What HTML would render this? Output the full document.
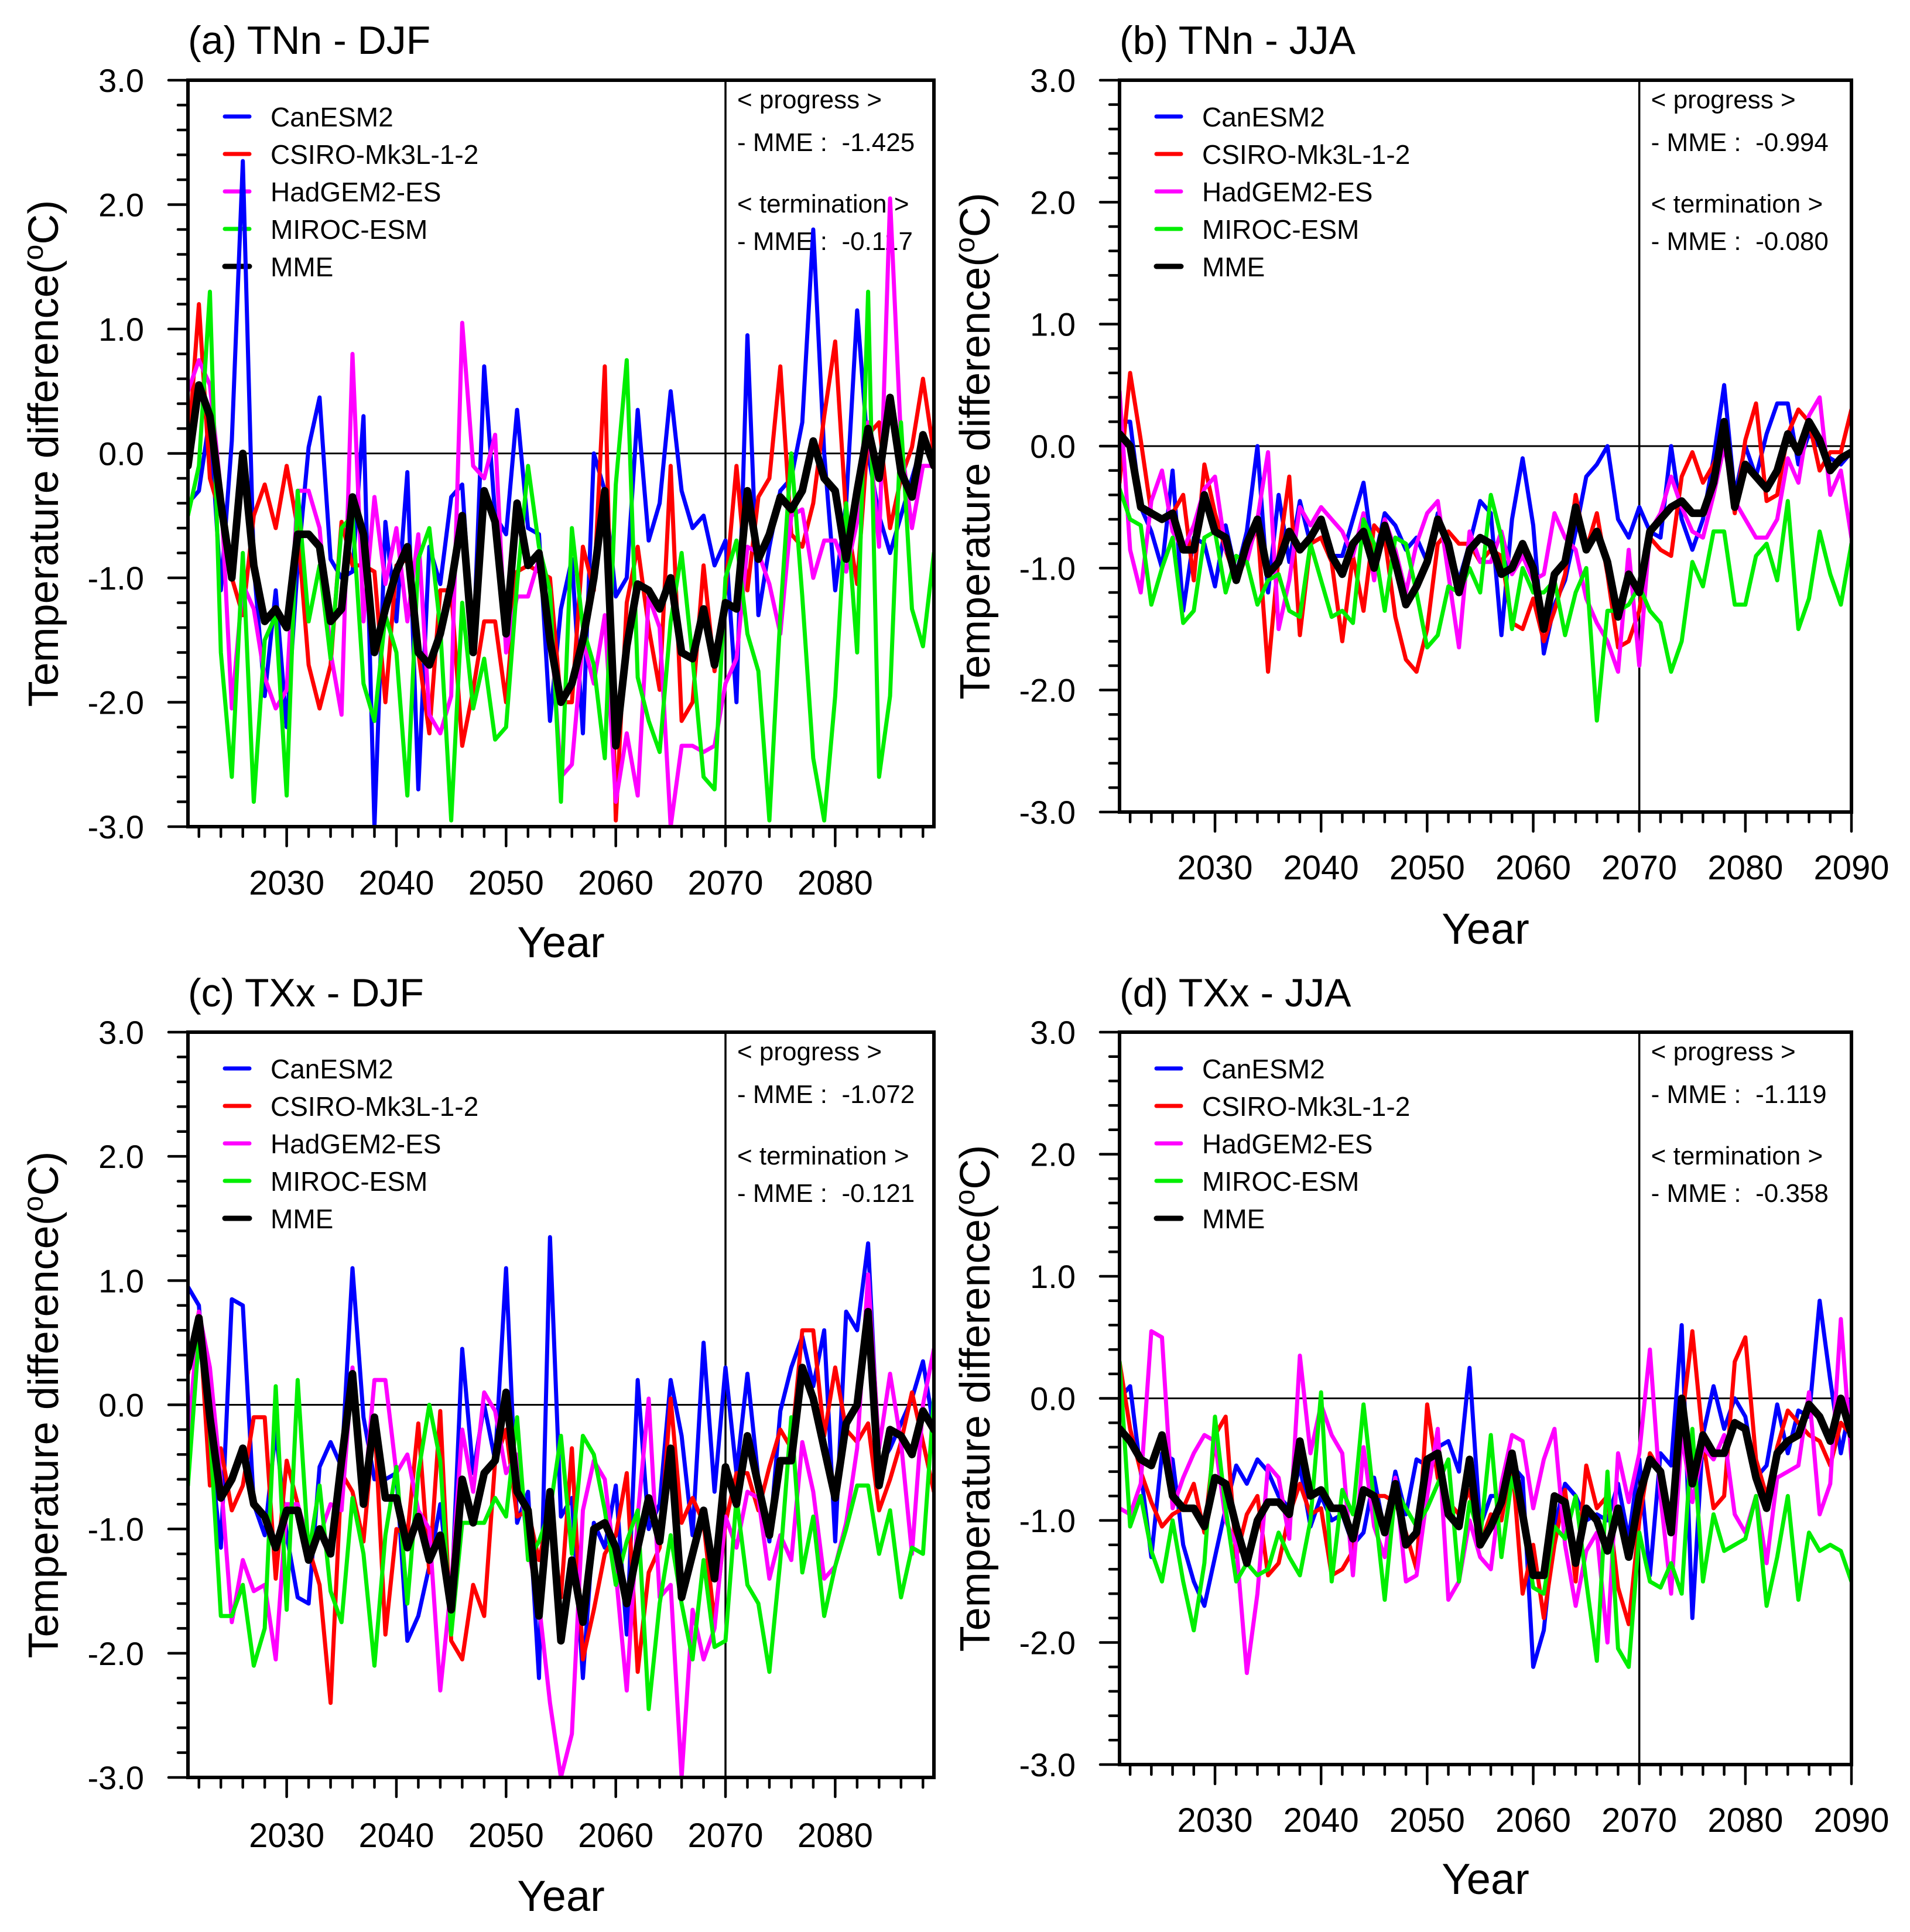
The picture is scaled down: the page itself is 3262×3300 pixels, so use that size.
<!DOCTYPE html>
<html><head><meta charset="utf-8"><title>Temperature difference panels</title>
<style>
html,body{margin:0;padding:0;background:#fff;}
svg text{font-family:"Liberation Sans",Arial,sans-serif;fill:#000;}
</style></head>
<body>
<svg id="fig" xmlns="http://www.w3.org/2000/svg" width="3262" height="3295" viewBox="0 0 3262 3295">
<rect x="0" y="0" width="3262" height="3295" fill="#fff"/>
</svg>
<script>
// ---- data: panel (a) TNn - DJF, years 2021-2089 ----
const yearsA = [2021, 2089];
const aCan = [-0.4,-0.3,0.3,-1.1,0.1,2.35,-0.9,-1.95,-1.1,-2.2,-0.9,0.05,0.45,-0.85,-1.0,-0.95,0.3,-3.0,-0.55,-1.35,-0.15,-2.7,-0.75,-1.05,-0.35,-0.25,-1.6,0.7,-0.5,-0.65,0.35,-0.6,-0.65,-2.15,-1.25,-0.85,-2.25,0.0,-0.3,-1.15,-1.0,0.35,-0.7,-0.4,0.5,-0.3,-0.6,-0.5,-0.9,-0.7,-2.0,0.95,-1.3,-0.75,-0.3,-0.2,0.25,1.8,0.0,-1.1,-0.4,1.15,0.0,-0.5,-0.8,-0.5,-0.2,0.1,0.0];
const aCsi = [0.0,1.2,-0.2,-0.5,-1.0,-1.3,-0.5,-0.25,-0.6,-0.1,-0.6,-1.7,-2.05,-1.7,-0.55,-0.9,-0.9,-0.95,-2.0,-0.9,-0.85,-1.6,-2.25,-1.1,-1.1,-2.35,-1.9,-1.35,-1.35,-2.0,-0.95,-0.9,-0.95,-1.0,-2.0,-2.0,-0.75,-1.1,0.7,-2.95,-1.2,-0.75,-1.4,-1.9,-0.1,-2.15,-2.0,-0.9,-1.75,-1.1,-0.1,-1.1,-0.35,-0.2,0.7,-0.65,-0.75,-0.4,0.3,0.9,-0.5,-1.05,0.15,0.25,-0.6,-0.2,0.05,0.6,0.0];
const aHad = [0.5,0.75,0.55,-0.3,-2.05,-1.05,-1.25,-1.8,-2.05,-1.9,-0.3,-0.3,-0.6,-1.6,-2.1,0.8,-1.35,-0.35,-1.05,-0.6,-1.35,-0.65,-2.1,-2.25,-1.95,1.05,-0.1,-0.2,0.15,-1.6,-1.15,-1.15,-0.85,-1.3,-2.6,-2.5,-1.5,-1.85,-1.3,-2.8,-2.25,-2.75,-1.15,-1.4,-3.0,-2.35,-2.35,-2.4,-2.35,-1.85,-1.65,-0.75,-0.8,-1.05,-1.45,-0.5,-0.45,-1.0,-0.7,-0.7,-0.95,-0.55,0.25,-0.75,2.05,0.1,-0.6,-0.1,-0.1];
const aMir = [-0.5,-0.1,1.3,-1.6,-2.6,-0.8,-2.8,-1.5,-1.3,-2.75,-0.3,-1.35,-0.9,-1.65,-0.6,-0.5,-1.85,-2.15,-1.3,-1.6,-2.75,-0.85,-0.6,-1.4,-2.95,-1.2,-2.05,-1.65,-2.3,-2.2,-1.05,-0.1,-0.75,-1.1,-2.8,-0.6,-1.4,-1.7,-2.45,-0.25,0.75,-1.8,-2.15,-2.4,-1.35,-0.8,-1.65,-2.6,-2.7,-1.0,-0.7,-1.45,-1.75,-2.95,-1.3,0.0,-1.15,-2.45,-2.95,-1.95,-0.4,-1.6,1.3,-2.6,-1.95,0.25,-1.25,-1.55,-0.8];
const aMme = [-0.1,0.55,0.3,-0.4,-1.0,0.0,-0.9,-1.35,-1.25,-1.4,-0.65,-0.65,-0.75,-1.35,-1.25,-0.35,-0.65,-1.6,-1.25,-0.95,-0.75,-1.6,-1.7,-1.45,-1.05,-0.5,-1.6,-0.3,-0.55,-1.45,-0.4,-0.9,-0.8,-1.5,-2.0,-1.85,-1.5,-1.0,-0.3,-2.35,-1.55,-1.05,-1.1,-1.25,-1.0,-1.6,-1.65,-1.25,-1.7,-1.2,-1.25,-0.3,-0.85,-0.65,-0.35,-0.45,-0.3,0.1,-0.2,-0.3,-0.85,-0.3,0.2,-0.2,0.45,-0.15,-0.35,0.15,-0.1];
// ---- panel (b) TNn - JJA, years 2021-2090 ----
const yearsB = [2021, 2090];
const bCan = [0.2,0.2,-0.5,-0.7,-1.0,-0.2,-1.35,-0.75,-0.8,-1.15,-0.65,-1.05,-0.7,0.0,-1.2,-0.4,-0.95,-0.45,-0.8,-0.75,-0.9,-0.9,-0.6,-0.3,-0.95,-0.55,-0.65,-0.85,-0.75,-0.95,-0.55,-0.8,-1.1,-0.8,-0.45,-0.55,-1.55,-0.6,-0.1,-0.65,-1.7,-1.3,-1.1,-0.7,-0.25,-0.15,0.0,-0.6,-0.75,-0.5,-0.7,-0.75,0.0,-0.6,-0.85,-0.6,-0.1,0.5,-0.4,0.0,-0.25,0.1,0.35,0.35,-0.15,0.1,0.0,-0.1,-0.15,-0.05];
const bCsi = [-0.3,0.6,0.05,-0.55,-0.6,-0.55,-0.4,-1.1,-0.15,-0.55,-0.85,-1.1,-0.9,-0.65,-1.85,-0.9,-0.25,-1.55,-0.8,-0.75,-0.95,-1.6,-0.9,-1.35,-0.65,-0.75,-1.4,-1.75,-1.85,-1.5,-0.8,-0.7,-0.8,-0.8,-0.95,-0.85,-0.9,-1.45,-1.5,-1.25,-1.6,-1.35,-1.05,-0.4,-0.85,-0.55,-1.05,-1.65,-1.6,-1.35,-0.75,-0.85,-0.9,-0.25,-0.05,-0.3,-0.15,0.05,-0.55,0.05,0.35,-0.45,-0.4,0.1,0.3,0.2,-0.2,-0.05,-0.05,0.3];
const bHad = [0.45,-0.85,-1.2,-0.45,-0.2,-0.7,-0.85,-0.65,-0.35,-0.25,-0.85,-1.0,-0.95,-0.6,-0.05,-1.5,-1.1,-0.5,-0.65,-0.5,-0.6,-0.7,-0.9,-0.55,-1.1,-0.6,-0.85,-1.2,-0.8,-0.55,-0.45,-1.05,-1.65,-0.7,-0.95,-0.95,-0.7,-1.05,-0.9,-1.1,-1.05,-0.55,-0.75,-0.85,-1.25,-1.45,-1.6,-1.85,-0.85,-1.8,-0.7,-0.55,-0.25,-0.5,-0.7,-0.75,-0.4,0.0,-0.45,-0.6,-0.75,-0.75,-0.6,-0.1,-0.3,0.25,0.4,-0.4,-0.2,-0.75];
const bMir = [-0.35,-0.6,-0.65,-1.3,-1.0,-0.75,-1.45,-1.35,-0.75,-0.7,-1.2,-0.9,-0.95,-1.3,-1.1,-1.05,-1.35,-1.4,-0.8,-1.1,-1.4,-1.35,-1.45,-0.6,-0.8,-1.35,-0.75,-0.8,-1.2,-1.65,-1.55,-1.15,-1.2,-1.0,-1.2,-0.4,-0.75,-1.5,-1.0,-1.2,-1.2,-1.1,-1.55,-1.2,-1.0,-2.25,-1.35,-1.35,-1.3,-1.15,-1.35,-1.45,-1.85,-1.6,-0.95,-1.15,-0.7,-0.7,-1.3,-1.3,-0.9,-0.8,-1.1,-0.45,-1.5,-1.25,-0.7,-1.05,-1.3,-0.8];
const bMme = [0.1,0.0,-0.5,-0.55,-0.6,-0.55,-0.85,-0.85,-0.4,-0.7,-0.75,-1.1,-0.8,-0.6,-1.05,-0.95,-0.7,-0.85,-0.75,-0.6,-0.9,-1.05,-0.8,-0.7,-1.0,-0.65,-0.95,-1.3,-1.15,-0.95,-0.6,-0.8,-1.2,-0.85,-0.75,-0.8,-1.05,-1.0,-0.8,-1.0,-1.5,-1.05,-0.95,-0.5,-0.85,-0.7,-0.95,-1.4,-1.05,-1.2,-0.7,-0.6,-0.5,-0.45,-0.55,-0.55,-0.3,0.2,-0.5,-0.15,-0.25,-0.35,-0.2,0.1,-0.05,0.2,0.05,-0.2,-0.1,-0.05];
// ---- panel (c) TXx - DJF, years 2021-2089 ----
const yearsC = [2021, 2089];
const cCan = [0.95,0.8,-0.35,-1.15,0.85,0.8,-0.8,-1.05,-0.2,-1.05,-1.55,-1.6,-0.5,-0.3,-0.5,1.1,-0.1,-0.6,-0.6,-0.55,-1.9,-1.7,-1.3,-0.8,-1.6,0.45,-0.55,0.0,-0.45,1.1,-0.95,-0.7,-2.2,1.35,-0.9,-0.75,-2.2,-0.95,-1.15,-0.65,-1.85,0.2,-1.0,-0.8,0.2,-0.25,-1.05,0.5,-0.7,0.3,-0.55,0.25,-0.6,-1.1,-0.05,0.3,0.55,0.15,0.6,-1.1,0.75,0.6,1.3,-0.5,-0.35,-0.15,0.05,0.35,-0.2];
const cCsi = [0.25,0.75,-0.65,-0.35,-0.85,-0.65,-0.1,-0.1,-1.4,-0.45,-0.8,-1.15,-1.45,-2.4,-0.55,-0.7,-1.1,-0.1,-1.85,-1.0,-1.05,-0.15,-1.35,-0.05,-1.9,-2.05,-1.45,-1.7,-0.45,-0.2,-0.9,-0.85,-1.25,-0.85,-1.55,-0.35,-2.05,-1.65,-1.2,-1.05,-0.55,-2.15,-1.35,-1.15,0.05,-0.95,-0.75,-0.95,-1.75,-0.95,-0.55,-0.55,-0.85,-0.5,-0.2,-0.35,0.6,0.6,-0.25,0.3,-0.2,-0.3,-0.15,-0.85,-0.6,-0.3,0.1,-0.3,-0.7];
const cHad = [-0.3,0.75,0.3,-0.6,-1.75,-1.25,-1.5,-1.45,-2.05,-0.8,-0.8,-1.1,-1.05,-0.8,-0.85,0.3,-0.8,0.2,0.2,-0.55,-0.4,-0.85,-1.0,-2.3,-1.45,-0.2,-0.7,0.1,-0.05,-0.55,-0.4,-1.15,-1.6,-2.4,-3.0,-2.65,-0.85,-0.45,-0.6,-1.35,-2.3,-0.9,0.05,-1.55,-1.45,-3.0,-1.65,-2.05,-1.8,-0.9,-1.15,-0.7,-0.75,-1.4,-1.05,-1.25,-0.3,-0.7,-1.4,-1.3,-0.95,-0.35,1.05,-0.35,0.25,-0.3,-1.2,0.0,0.45];
const cMir = [-0.65,0.55,-0.2,-1.7,-1.7,-1.45,-2.1,-1.8,0.15,-1.65,0.2,-1.2,-0.65,-1.5,-1.75,-0.75,-1.2,-2.1,-1.05,-0.5,-1.6,-0.55,0.0,-0.45,-1.85,-0.95,-0.95,-0.95,-0.75,-0.9,-0.1,-1.25,-1.1,-0.85,-0.25,-1.2,-0.25,-0.4,-0.85,-1.45,-1.1,-0.85,-2.45,-1.6,-1.05,-1.6,-2.05,-1.25,-1.95,-1.9,-0.75,-1.45,-1.6,-2.15,-1.25,-0.1,-1.35,-0.9,-1.7,-1.3,-1.0,-0.65,-0.65,-1.2,-0.85,-1.55,-1.15,-1.2,0.05];
const cMme = [0.3,0.7,-0.1,-0.75,-0.6,-0.35,-0.8,-0.9,-1.15,-0.85,-0.85,-1.25,-1.0,-1.2,-0.45,0.25,-0.8,-0.1,-0.75,-0.75,-1.15,-0.9,-1.25,-1.05,-1.65,-0.6,-0.95,-0.55,-0.45,0.1,-0.7,-0.85,-1.7,-0.7,-1.9,-1.25,-1.75,-1.0,-0.95,-1.15,-1.6,-1.15,-0.75,-1.1,-0.35,-1.55,-1.2,-0.85,-1.4,-0.5,-0.8,-0.25,-0.65,-1.05,-0.45,-0.45,0.3,0.05,-0.35,-0.75,-0.15,0.0,0.75,-0.65,-0.2,-0.25,-0.4,-0.05,-0.2];
// ---- panel (d) TXx - JJA, years 2021-2090 ----
const yearsD = [2021, 2090];
const dCan = [0.0,0.1,-0.6,-1.3,-0.45,-0.5,-1.2,-1.5,-1.7,-1.3,-0.9,-0.55,-0.7,-0.5,-0.6,-0.8,-0.9,-0.55,-1.05,-0.8,-1.0,-0.95,-1.2,-1.1,-0.65,-1.1,-0.6,-0.95,-0.5,-0.55,-0.4,-0.35,-0.6,0.25,-1.05,-0.8,-0.8,-0.55,-0.65,-2.2,-1.9,-1.05,-0.7,-0.8,-1.0,-0.95,-1.0,-0.7,-1.15,-0.5,-1.45,-0.45,-0.55,0.6,-1.8,-0.3,0.1,-0.25,0.0,-0.15,-0.65,-0.55,-0.05,-0.45,-0.1,-0.15,0.8,0.15,-0.45,0.0];
const dCsi = [0.3,-0.25,-0.6,-0.85,-1.05,-0.95,-0.9,-0.7,-1.1,-0.3,-0.15,-1.3,-0.95,-0.8,-1.45,-1.35,-0.95,-0.7,-0.95,-0.9,-1.45,-1.4,-1.25,-0.75,-0.8,-0.8,-0.85,-1.1,-1.4,-0.05,-0.65,-0.85,-0.95,-0.75,-1.2,-0.95,-1.0,-0.5,-1.6,-1.2,-1.8,-1.2,-0.75,-1.5,-0.55,-0.9,-0.8,-1.55,-1.85,-1.0,-0.45,-0.6,-1.05,-0.2,0.55,-0.35,-0.9,-0.8,0.3,0.5,-0.5,-0.8,-0.4,-0.1,-0.2,-0.3,-0.35,-0.55,-0.2,-0.3];
const dHad = [-0.9,-0.95,-0.7,0.55,0.5,-0.9,-0.65,-0.45,-0.3,-0.35,-1.0,-1.2,-2.25,-1.6,-0.55,-0.65,-1.15,0.35,-0.45,-0.05,-0.3,-0.45,-1.45,-0.4,-1.05,-1.3,-0.65,-1.5,-1.45,-0.8,-0.25,-1.65,-1.5,-1.0,-1.3,-1.4,-0.7,-0.3,-0.35,-0.9,-0.5,-0.25,-1.2,-1.7,-1.25,-1.1,-2.0,-0.45,-0.85,-0.45,0.4,-0.8,-1.6,-0.3,-0.85,-0.4,-0.5,-0.3,-0.95,-1.1,-0.8,-1.35,-0.65,-0.6,-0.55,0.05,-0.95,-0.7,0.65,-0.5];
const dMir = [0.3,-1.05,-0.8,-1.25,-1.5,-1.0,-1.5,-1.9,-1.35,-0.15,-0.9,-1.5,-1.35,-1.45,-1.4,-1.1,-1.3,-1.45,-1.0,0.05,-1.5,-0.75,-0.95,-0.05,-0.85,-1.65,-0.75,-0.9,-1.05,-0.9,-0.7,-0.5,-1.5,-0.85,-1.15,-0.3,-1.3,-0.65,-0.95,-1.55,-1.6,-1.05,-1.15,-0.8,-1.5,-2.15,-0.6,-2.05,-2.2,-1.1,-1.5,-1.55,-1.35,-1.6,-0.25,-1.5,-0.95,-1.25,-1.2,-1.15,-0.8,-1.7,-1.3,-0.8,-1.65,-1.1,-1.25,-1.2,-1.25,-1.5];
const dMme = [-0.25,-0.35,-0.5,-0.55,-0.3,-0.8,-0.9,-0.9,-1.05,-0.65,-0.7,-1.05,-1.35,-1.0,-0.85,-0.85,-0.95,-0.35,-0.8,-0.75,-0.9,-0.9,-1.15,-0.75,-0.8,-1.1,-0.7,-1.2,-1.1,-0.5,-0.45,-0.95,-1.05,-0.5,-1.2,-1.05,-0.85,-0.45,-0.95,-1.45,-1.45,-0.8,-0.85,-1.35,-0.9,-1.0,-1.25,-0.9,-1.3,-0.8,-0.5,-0.6,-1.1,0.0,-0.7,-0.3,-0.45,-0.45,-0.2,-0.25,-0.65,-0.9,-0.45,-0.35,-0.3,-0.05,-0.15,-0.35,0.0,-0.3];
// ---- labels ----
const seriesNames = ["CanESM2","CSIRO-Mk3L-1-2","HadGEM2-ES","MIROC-ESM","MME"];
const yTickLabels = ["-3.0","-2.0","-1.0","0.0","1.0","2.0","3.0"];
const progressVals = ["-1.425","-0.994","-1.072","-1.119"];
const terminationVals = ["-0.117","-0.080","-0.121","-0.358"];
const panelTitles = ["(a) TNn - DJF","(b) TNn - JJA","(c) TXx - DJF","(d) TXx - JJA"];

const NS = "http://www.w3.org/2000/svg";
const svg = document.getElementById("fig");
const colors = ["#0000ff","#ff0000","#ff00ff","#00ee00","#000000"];
const slugs = ["canesm2","csiro-mk3l-1-2","hadgem2-es","miroc-esm","mme"];

function mk(tag, attrs, parent){
  const e = document.createElementNS(NS, tag);
  for (const k in attrs) e.setAttribute(k, attrs[k]);
  (parent||svg).appendChild(e);
  return e;
}

const panels = [
  {L:321,R:1595,T:137,B:1412,yrs:yearsA,data:[aCan,aCsi,aHad,aMir,aMme],xlab:1528,yearY:1635,titleY:92,id:"a"},
  {L:1912,R:3162,T:137,B:1387,yrs:yearsB,data:[bCan,bCsi,bHad,bMir,bMme],xlab:1502,yearY:1612,titleY:92,id:"b"},
  {L:321,R:1595,T:1763,B:3036,yrs:yearsC,data:[cCan,cCsi,cHad,cMir,cMme],xlab:3155,yearY:3264,titleY:1719,id:"c"},
  {L:1912,R:3162,T:1763,B:3014,yrs:yearsD,data:[dCan,dCsi,dHad,dMir,dMme],xlab:3129,yearY:3235,titleY:1719,id:"d"}
];

panels.forEach((p, pi) => {
  const g = mk("g", {});
  
  
  const y0 = p.yrs[0], y1 = p.yrs[1];
  const X = yr => p.L + (yr - y0) * (p.R - p.L) / (y1 - y0);
  const Y = v => p.B - (v + 3) * (p.B - p.T) / 6;

  const t = mk("text", {x:p.L, y:p.titleY, "font-size":68}, g);
  t.textContent = panelTitles[pi];
  
  

  for (let i = 0; i <= 30; i++) {
    const v = -3 + i * 0.2;
    const major = i % 5 === 0;
    const tk = mk("line", {x1:p.L - (major?33:17), x2:p.L, y1:Y(v), y2:Y(v), stroke:"#000", "stroke-width":4.5, "stroke-linecap":"round"}, g);
    
    
  }
  yTickLabels.forEach((lab, i) => {
    const tl = mk("text", {x:p.L - 75, y:Y(-3 + i) + 20, "font-size":56, "text-anchor":"end"}, g);
    tl.textContent = lab;
    
    
  });
  for (let yr = Math.ceil(y0 / 2) * 2; yr <= y1; yr += 2) {
    const major = yr % 10 === 0;
    const tk = mk("line", {x1:X(yr), x2:X(yr), y1:p.B, y2:p.B + (major?33:17), stroke:"#000", "stroke-width":4.5, "stroke-linecap":"round"}, g);
    
    
    if (major) {
      const tl = mk("text", {x:X(yr), y:p.xlab, "font-size":58, "text-anchor":"middle"}, g);
      tl.textContent = String(yr);
      
      
    }
  }
  const xt = mk("text", {x:(p.L + p.R) / 2, y:p.yearY, "font-size":74, "text-anchor":"middle"}, g);
  xt.textContent = "Year";
  
  
  const yx = p.L - 222, yy = (p.T + p.B) / 2;
  const yt = mk("text", {x:yx, y:yy, "font-size":72, "text-anchor":"middle", transform:"rotate(-90 " + yx + " " + yy + ")"}, g);
  yt.innerHTML = 'Temperature difference(<tspan font-size="48" dy="-26">o</tspan><tspan dy="26">C)</tspan>';
  
  

  seriesNames.forEach((nm, i) => {
    const ry = p.T + 62 + 64 * i;
    const ll = mk("line", {x1:p.L + 63, x2:p.L + 105, y1:ry, y2:ry, stroke:colors[i], "stroke-width":i === 4 ? 9 : 7, "stroke-linecap":"round"}, g);
    
    
    const lt = mk("text", {x:p.L + 141, y:ry + 17, "font-size":46}, g);
    lt.textContent = nm;
    
    
  });

  const ax = X(2070) + 20;
  const ann = [["< progress >", 48], ["- MME :  " + progressVals[pi], 121], ["< termination >", 226], ["- MME :  " + terminationVals[pi], 290]];
  ann.forEach((a, i) => {
    const at = mk("text", {x:ax, y:p.T + a[1], "font-size":44, style:"white-space:pre"}, g);
    at.textContent = a[0];
    
    
  });

  const zl = mk("line", {x1:p.L, x2:p.R, y1:Y(0), y2:Y(0), stroke:"#000", "stroke-width":3}, g);
  
  
  const vl = mk("line", {x1:X(2070), x2:X(2070), y1:p.T, y2:p.B, stroke:"#000", "stroke-width":3.5}, g);
  
  

  const cp = mk("clipPath", {id:"clip" + p.id}, g);
  mk("rect", {x:p.L, y:p.T, width:p.R - p.L, height:p.B - p.T}, cp);
  const sg = mk("g", {"clip-path":"url(#clip" + p.id + ")"}, g);
  
  
  p.data.forEach((arr, si) => {
    const pts = arr.map((v, k) => X(y0 + k).toFixed(1) + "," + Y(v).toFixed(1)).join(" ");
    const pl = mk("polyline", {points:pts, fill:"none", stroke:colors[si], "stroke-width":si === 4 ? 13 : 7, "stroke-linejoin":"round", "stroke-linecap":"round"}, sg);
    
    
  });

  const fr = mk("rect", {x:p.L, y:p.T, width:p.R - p.L, height:p.B - p.T, fill:"none", stroke:"#000", "stroke-width":6}, g);
  
  
});
</script>
</body></html>
